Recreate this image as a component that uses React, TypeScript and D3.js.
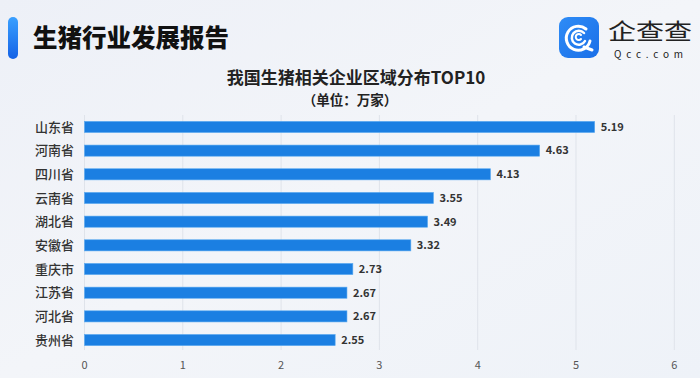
import React from "react";
import * as d3 from "d3";

const categories = ["山东省", "河南省", "四川省", "云南省", "湖北省", "安徽省", "重庆市", "江苏省", "河北省", "贵州省"];
const values = [5.19, 4.63, 4.13, 3.55, 3.49, 3.32, 2.73, 2.67, 2.67, 2.55];
const xTicks = [0, 1, 2, 3, 4, 5, 6];
const headerTitle = "生猪行业发展报告";
const chartTitle = "我国生猪相关企业区域分布TOP10";
const chartSubtitle = "（单位：万家）";

const W = 700;
const H = 378;
const FONT = "'Noto Sans CJK SC', 'Noto Sans', sans-serif";

export default function App() {
  const x = d3.scaleLinear().domain([0, 6]).range([84.5, 674.3]);
  const y = d3.scaleBand<string>().domain(categories).range([115, 352]).paddingInner(0.53).paddingOuter(0.27);
  const bw = y.bandwidth();
  return (
    <svg width={W} height={H} style={{ position: "absolute", left: 0, top: 0 }} fontFamily={FONT}>
      <defs>
        <linearGradient id="bg" x1="0" y1="0" x2="1" y2="1">
          <stop offset="0" stopColor="#edf0f7" />
          <stop offset="0.5" stopColor="#f3f5f9" />
          <stop offset="1" stopColor="#eef2f8" />
        </linearGradient>
        <linearGradient id="acc" x1="0" y1="0" x2="0" y2="1">
          <stop offset="0" stopColor="#3aa0ff" />
          <stop offset="1" stopColor="#1462e6" />
        </linearGradient>
        <linearGradient id="logo" x1="0" y1="0" x2="1" y2="1">
          <stop offset="0" stopColor="#2e8cf6" />
          <stop offset="1" stopColor="#1a6fe8" />
        </linearGradient>
      </defs>
      <rect x={0} y={0} width={W} height={H} fill="url(#bg)" />
      {/* header */}
      <rect x={8} y={17} width={10} height={42} rx={5} fill="url(#acc)" />
      <text x={33} y={47} fontSize={24.5} fontWeight={900} fill="#111">{headerTitle}</text>
      {/* logo */}
      <rect x={559} y={17} width={40} height={41} rx={9} fill="url(#logo)" />
      <g fill="none" stroke="#fff" strokeLinecap="round">
        <path d="M 590 41 A 12 12 0 1 1 586 29" strokeWidth={3} />
        <path d="M 585 41 A 7 7 0 1 1 584 33" strokeWidth={2.5} />
        <path d="M 581 39 A 3 3 0 1 1 581 35" strokeWidth={2} />
        <path d="M 584 47 L 592 50" strokeWidth={3} />
      </g>
      <text x={650} y={39} fontSize={22} textAnchor="middle" fill="#222" fontWeight={400} textLength={84} lengthAdjust="spacingAndGlyphs">企查查</text>
      <text x={651} y={58} fontSize={10} textAnchor="middle" fill="#222" letterSpacing={4.8}>Qcc.com</text>
      {/* titles */}
      <text x={356} y={84} fontSize={17} fontWeight={700} textAnchor="middle" fill="#222">{chartTitle}</text>
      <text x={350} y={105} fontSize={13.5} fontWeight={700} textAnchor="middle" fill="#222">{chartSubtitle}</text>
      {/* grid */}
      {xTicks.map((t) => (
        <line key={"g" + t} x1={x(t)} x2={x(t)} y1={115} y2={350} stroke="#dfe3ea" strokeWidth={1} />
      ))}
      {/* bars */}
      {categories.map((c, i) => (
        <g key={c}>
          <rect x={x(0)} y={y(c)!} width={x(values[i]) - x(0)} height={bw} fill="#1b7fe2" stroke="#5aaaf0" strokeWidth={0.6} />
          <text x={x(values[i]) + 6} y={y(c)! + bw / 2} dy="0.35em" fontSize={11} fontWeight={700} fill="#333">{values[i].toFixed(2)}</text>
          <text x={74} y={y(c)! + bw / 2} dy="0.35em" fontSize={13} fontWeight={500} textAnchor="end" fill="#333">{c}</text>
        </g>
      ))}
      {/* x axis labels */}
      {xTicks.map((t) => (
        <text key={"t" + t} x={x(t)} y={369} fontSize={11} textAnchor="middle" fill="#555">{t}</text>
      ))}
    </svg>
  );
}
